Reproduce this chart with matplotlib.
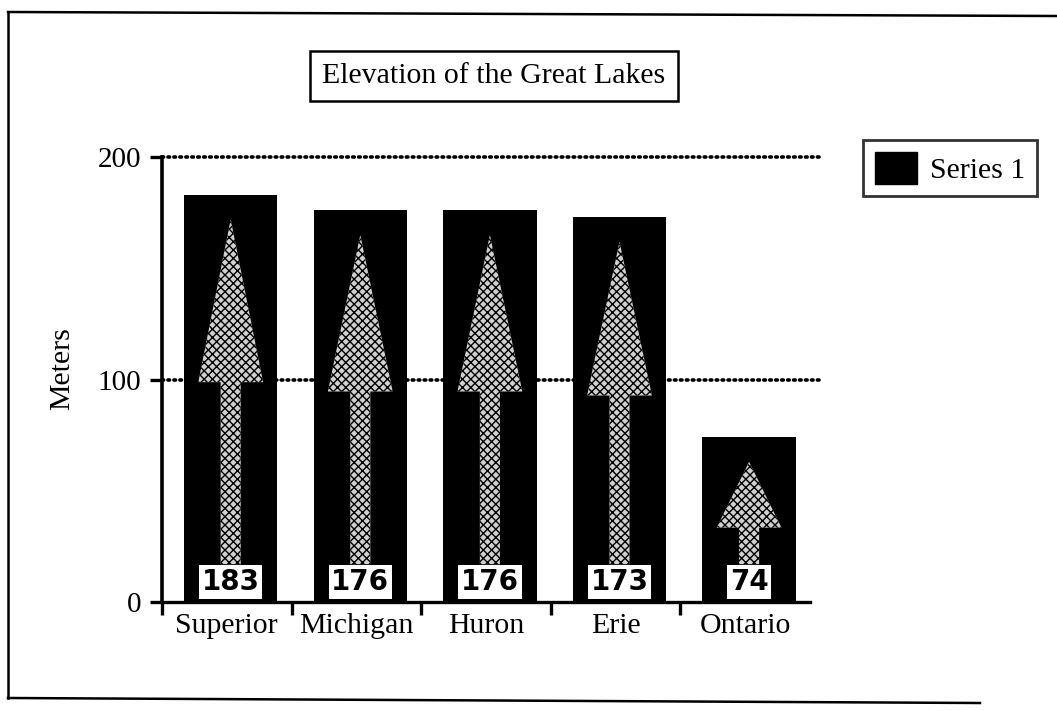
import matplotlib
matplotlib.use("Agg")
import matplotlib.pyplot as plt
from matplotlib.patches import Polygon, Patch
from matplotlib.lines import Line2D
import matplotlib.ticker as mticker
import numpy as np

lakes = ["Superior", "Michigan", "Huron", "Erie", "Ontario"]
elevation_m = [183, 176, 176, 173, 74]
series_name = "Series 1"
title = "Elevation of the Great Lakes"
y_label = "Meters"
y_ticks = [0, 100, 200]

plt.rcParams['font.family'] = ['Liberation Serif', 'DejaVu Serif']

W, H = 1057, 711
fig = plt.figure(figsize=(W / 100, H / 100), dpi=100)
fig.patch.set_facecolor('white')

ax = fig.add_axes([162 / W, 1 - 602 / H, 648 / W, 445 / H])
x = np.arange(len(lakes))
ax.set_xlim(-0.5, len(lakes) - 0.5)
ax.set_ylim(0, 200)

# dotted gridlines
for yv in y_ticks[1:]:
    ax.axhline(yv, xmin=0, xmax=1.016, color='black', lw=2.6,
               linestyle=(0, (0.45, 1.2)), dash_capstyle='round',
               clip_on=False, zorder=1)

bw = 0.72
ax.bar(x + 0.03, elevation_m, width=bw, color='black', zorder=2, label=series_name)

# stippled arrows and value boxes
for xi, v in zip(x + 0.03, elevation_m):
    box_top = 17
    tip = v - 11
    head_len = 0.4 * v
    head_base = tip - head_len
    sw = 0.155 / 2
    hw = 0.50 / 2
    pts = [(xi - sw, box_top), (xi - sw, head_base), (xi - hw, head_base),
           (xi, tip), (xi + hw, head_base), (xi + sw, head_base),
           (xi + sw, box_top)]
    poly = Polygon(pts, closed=True, facecolor='#d0d0d0', edgecolor='black',
                   hatch='xxxx', lw=0, zorder=3)
    ax.add_patch(poly)
    ax.text(xi, 9, str(v), ha='center', va='center', fontsize=20,
            family='DejaVu Sans', fontweight='bold', color='black', zorder=5,
            bbox=dict(boxstyle='square,pad=0.1', facecolor='white',
                      edgecolor='none'))

# spines & ticks
for s in ['top', 'right']:
    ax.spines[s].set_visible(False)
ax.spines['left'].set_linewidth(2.6)
ax.spines['bottom'].set_linewidth(2.4)
ax.spines['left'].set_zorder(6)
ax.set_yticks(y_ticks)
ax.set_yticklabels([str(t) for t in y_ticks], fontsize=21)
ax.tick_params(axis='y', direction='out', length=9, width=2.4, pad=6)
ax.set_xticks(x)
ax.set_xticklabels(lakes, fontsize=21.5)
ax.tick_params(axis='x', which='major', length=0, pad=8)
ax.xaxis.set_minor_locator(mticker.FixedLocator(np.arange(len(lakes)) - 0.5))
ax.tick_params(axis='x', which='minor', direction='out', length=9, width=2.4)
ax.set_ylabel(y_label, fontsize=21.5)
ax.yaxis.set_label_coords(-0.134, 0.525)

# title box
fig.text(494 / W, 1 - 76 / H, title, ha='center', va='center', fontsize=21.5,
         bbox=dict(boxstyle='square,pad=0.4', facecolor='white',
                   edgecolor='black', lw=1.8))

# legend
leg = fig.legend(handles=[Patch(facecolor='black', edgecolor='black', label=series_name)],
                 loc='upper left', bbox_to_anchor=(863 / W, 1 - 140 / H),
                 fontsize=21.5, frameon=True, fancybox=False, handlelength=1.4,
                 handleheight=1.3, handletextpad=0.45, borderpad=0.4,
                 borderaxespad=0)
leg.get_frame().set_edgecolor('black')
leg.get_frame().set_linewidth(2.0)

# outer frame
fig.add_artist(Line2D([8 / W, 8 / W], [1 - 12 / H, 1 - 698 / H], color='black', lw=1.8))
fig.add_artist(Line2D([8 / W, 1.0], [1 - 12 / H, 1 - 16 / H], color='black', lw=1.8))
fig.add_artist(Line2D([8 / W, 980 / W], [1 - 698 / H, 1 - 703 / H], color='black', lw=1.8))

fig.savefig("out.png", dpi=100, facecolor='white')
